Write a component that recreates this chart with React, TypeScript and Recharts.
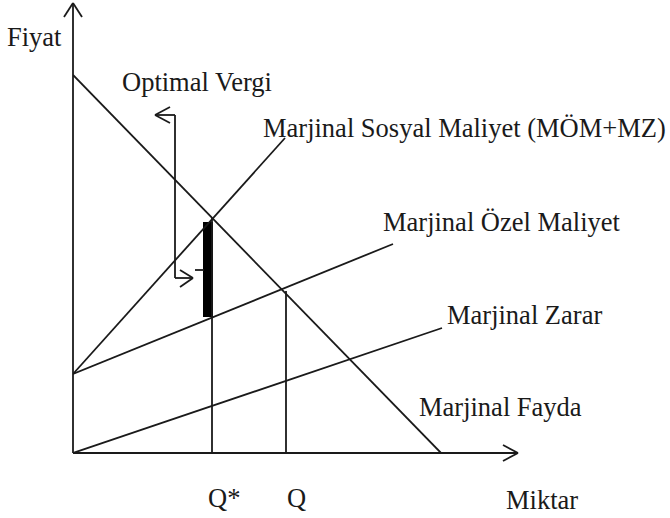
import { LineChart, Line, XAxis, YAxis, ReferenceLine, ReferenceDot, ReferenceArea } from 'recharts'

// Units: pixels from the origin of the quantity/price axes
const margFaydaX = [0, 368]
const margFaydaY = [378, 0]
const sosyalMaliyetX = [0, 212]
const sosyalMaliyetY = [79, 315]
const ozelMaliyetX = [0, 320]
const ozelMaliyetY = [79, 209]
const zararX = [0, 369]
const zararY = [0, 125]

const qStar = 139
const qStarTop = 235
const qMarket = 213
const qMarketTop = 162

// tax bar between private and social cost at Q*
const taxBarX = [130, 140]
const taxBarY = [136, 231]

const labelTexts = [
  'Fiyat',
  'Optimal Vergi',
  'Marjinal Sosyal Maliyet (MÖM+MZ)',
  'Marjinal Özel Maliyet',
  'Marjinal Zarar',
  'Marjinal Fayda',
  'Q*',
  'Q',
  'Miktar',
]
const labelX = [-66, 49, 190, 310, 374, 346, 135, 214, 433]
const labelY = [416, 371, 325, 231, 138, 46, -45, -45, -47]

const INK = '#1a1a1a'
const FONT = '"Liberation Serif", "Times New Roman", serif'

const toRows = (xs: number[], ys: number[]) => xs.map((x, i) => ({ x, y: ys[i] }))

type Seg = [{ x: number; y: number }, { x: number; y: number }]

const segments: Seg[] = [
  // axes
  [{ x: 0, y: 0 }, { x: 0, y: 450 }],
  [{ x: 0, y: 0 }, { x: 445, y: 0 }],
  // axis arrowheads
  [{ x: -9, y: 436 }, { x: 0, y: 450 }],
  [{ x: 9, y: 436 }, { x: 0, y: 450 }],
  [{ x: 430, y: 8 }, { x: 445, y: 0 }],
  [{ x: 430, y: -8 }, { x: 445, y: 0 }],
  // Q* and Q
  [{ x: qStar, y: 0 }, { x: qStar, y: qStarTop }],
  [{ x: qMarket, y: 0 }, { x: qMarket, y: qMarketTop }],
  // optimal tax bracket
  [{ x: 82, y: 338 }, { x: 102, y: 338 }],
  [{ x: 82, y: 338 }, { x: 97, y: 346 }],
  [{ x: 82, y: 338 }, { x: 97, y: 330 }],
  [{ x: 102, y: 338 }, { x: 102, y: 175 }],
  [{ x: 102, y: 175 }, { x: 120, y: 175 }],
  [{ x: 120, y: 175 }, { x: 107, y: 183 }],
  [{ x: 120, y: 175 }, { x: 107, y: 166 }],
  [{ x: 122, y: 183 }, { x: 131, y: 183 }],
]

export default function App() {
  const series = [
    { key: 'mf', data: toRows(margFaydaX, margFaydaY) },
    { key: 'msm', data: toRows(sosyalMaliyetX, sosyalMaliyetY) },
    { key: 'mom', data: toRows(ozelMaliyetX, ozelMaliyetY) },
    { key: 'mz', data: toRows(zararX, zararY) },
  ]
  return (
    <div style={{ position: 'absolute', left: 0, top: 0, background: '#fff' }}>
      <LineChart width={670} height={518} margin={{ top: 0, right: 150, bottom: 65, left: 73 }}>
        <XAxis type="number" dataKey="x" domain={[0, 447]} hide allowDataOverflow />
        <YAxis type="number" dataKey="y" domain={[0, 453]} hide allowDataOverflow />
        {series.map((s) => (
          <Line
            key={s.key}
            data={s.data}
            dataKey="y"
            type="linear"
            stroke={INK}
            strokeWidth={1.8}
            dot={false}
            activeDot={false}
            isAnimationActive={false}
          />
        ))}
        {segments.map((seg, i) => (
          <ReferenceLine key={i} segment={seg} stroke={INK} strokeWidth={1.8} ifOverflow="visible" />
        ))}
        <ReferenceArea
          x1={taxBarX[0]}
          x2={taxBarX[1]}
          y1={taxBarY[0]}
          y2={taxBarY[1]}
          fill="#000"
          fillOpacity={1}
          stroke="none"
          ifOverflow="visible"
        />
        {labelTexts.map((t, i) => (
          <ReferenceDot
            key={t}
            x={labelX[i]}
            y={labelY[i]}
            r={0}
            fill="none"
            stroke="none"
            ifOverflow="visible"
            label={{ value: t, position: 'right', offset: 0, fill: INK, fontSize: 26.5, fontFamily: FONT }}
          />
        ))}
      </LineChart>
    </div>
  )
}
